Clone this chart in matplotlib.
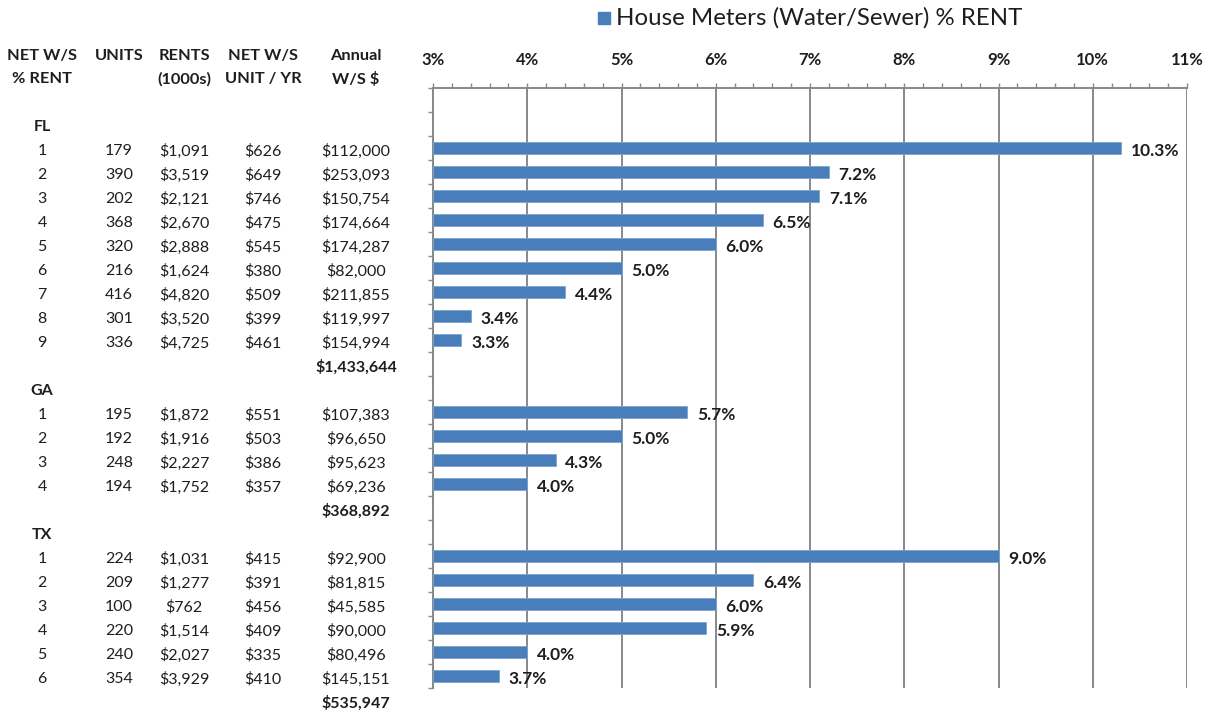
import numpy as np
import matplotlib.pyplot as plt
from matplotlib.transforms import blended_transform_factory
from matplotlib.ticker import MultipleLocator, FuncFormatter

plt.rcParams['font.family'] = ['Lato', 'DejaVu Sans']

states = ['FL', 'GA', 'TX']

fl_units = [179, 390, 202, 368, 320, 216, 416, 301, 336]
fl_rents = [1091, 3519, 2121, 2670, 2888, 1624, 4820, 3520, 4725]
fl_unit_yr = [626, 649, 746, 475, 545, 380, 509, 399, 461]
fl_annual = [112000, 253093, 150754, 174664, 174287, 82000, 211855, 119997, 154994]
fl_pct = [10.3, 7.2, 7.1, 6.5, 6.0, 5.0, 4.4, 3.4, 3.3]

ga_units = [195, 192, 248, 194]
ga_rents = [1872, 1916, 2227, 1752]
ga_unit_yr = [551, 503, 386, 357]
ga_annual = [107383, 96650, 95623, 69236]
ga_pct = [5.7, 5.0, 4.3, 4.0]

tx_units = [224, 209, 100, 220, 240, 354]
tx_rents = [1031, 1277, 762, 1514, 2027, 3929]
tx_unit_yr = [415, 391, 456, 409, 335, 410]
tx_annual = [92900, 81815, 45585, 90000, 80496, 145151]
tx_pct = [9.0, 6.4, 6.0, 5.9, 4.0, 3.7]

groups = [
    (fl_units, fl_rents, fl_unit_yr, fl_annual, fl_pct),
    (ga_units, ga_rents, ga_unit_yr, ga_annual, ga_pct),
    (tx_units, tx_rents, tx_unit_yr, tx_annual, tx_pct),
]

headers = [('NET W/S', '% RENT'), ('UNITS', ''), ('RENTS', '(1000s)'),
           ('NET W/S', 'UNIT / YR'), ('Annual', 'W/S $')]
col_x = [42, 119, 184, 263, 356]  # pixel centres of table columns

W, H = 1212, 712
fig = plt.figure(figsize=(W / 100, H / 100), dpi=100)
ax = fig.add_axes([433 / W, (H - 688) / H, 754 / W, 600 / H])

txtc = '#1e1e1e'
barc = '#4a7ebb'
grid = '#888888'
tr = blended_transform_factory(fig.transFigure, ax.transData)
fs = 11.5
dy = 0.12  # nudge text down a little so digits sit centred on the row

slot = 1  # slot 0 is empty
for st, (u, r, uy, an, pc) in zip(states, groups):
    ax.text(col_x[0] / W, slot + dy, st, transform=tr, ha='center', va='center',
            fontsize=fs, fontweight='bold', color=txtc)
    slot += 1
    for i in range(len(u)):
        y = slot
        ax.barh(y, pc[i] - 3, left=3, height=0.5, color=barc,
                edgecolor='#7ea3d1', linewidth=0.6, zorder=3)
        ax.annotate(f'{pc[i]:.1f}%', (pc[i], y), xytext=(7, -2),
                    textcoords='offset points', ha='left', va='center',
                    fontsize=12.5, fontweight='bold', color=txtc)
        vals = [str(i + 1), str(u[i]), f'${r[i]:,}', f'${uy[i]:,}', f'${an[i]:,}']
        for xx, v in zip(col_x, vals):
            ax.text(xx / W, y + dy, v, transform=tr, ha='center', va='center',
                    fontsize=fs, color=txtc)
        slot += 1
    ax.text(col_x[4] / W, slot + dy, f'${sum(an):,}', transform=tr, ha='center',
            va='center', fontsize=fs, fontweight='bold', color=txtc)
    slot += 1

for xx, (h1, h2) in zip(col_x, headers):
    fig.text(xx / W, 1 - 56 / H, h1, ha='center', va='center', fontsize=fs + 0.3,
             fontweight='bold', color=txtc)
    fig.text(xx / W, 1 - 79 / H, h2, ha='center', va='center', fontsize=fs + 0.3,
             fontweight='bold', color=txtc)

ax.set_xlim(3, 11)
ax.set_ylim(24.5, -0.5)
ax.xaxis.tick_top()
ax.xaxis.set_major_locator(MultipleLocator(1))
ax.xaxis.set_minor_locator(MultipleLocator(0.2))
ax.xaxis.set_major_formatter(FuncFormatter(lambda v, p: f'{v:.0f}%'))
ax.set_yticks(np.arange(-0.5, 25, 1))
ax.set_yticklabels([])
ax.tick_params(axis='x', which='both', direction='out', length=3.5, width=1,
               color=grid, pad=11, labelsize=12, labelcolor=txtc)
ax.tick_params(axis='y', direction='out', length=3.5, width=1, color=grid)
for lb in ax.get_xticklabels():
    lb.set_fontweight('bold')
ax.grid(axis='x', which='major', color=grid, linewidth=1.4, zorder=0)
ax.set_axisbelow(True)
for s in ['right', 'bottom']:
    ax.spines[s].set_visible(False)
for s in ['top', 'left']:
    ax.spines[s].set_color(grid)
    ax.spines[s].set_linewidth(1.4)

# legend
fig.patches.append(plt.Rectangle((598 / W, 1 - 24 / H), 12 / W, 12 / H,
                                 transform=fig.transFigure, color=barc))
fig.text(616 / W, 1 - 18 / H, 'House Meters (Water/Sewer) % RENT', ha='left',
         va='center', fontsize=17.3, color=txtc)

fig.savefig('out.png', dpi=100)
